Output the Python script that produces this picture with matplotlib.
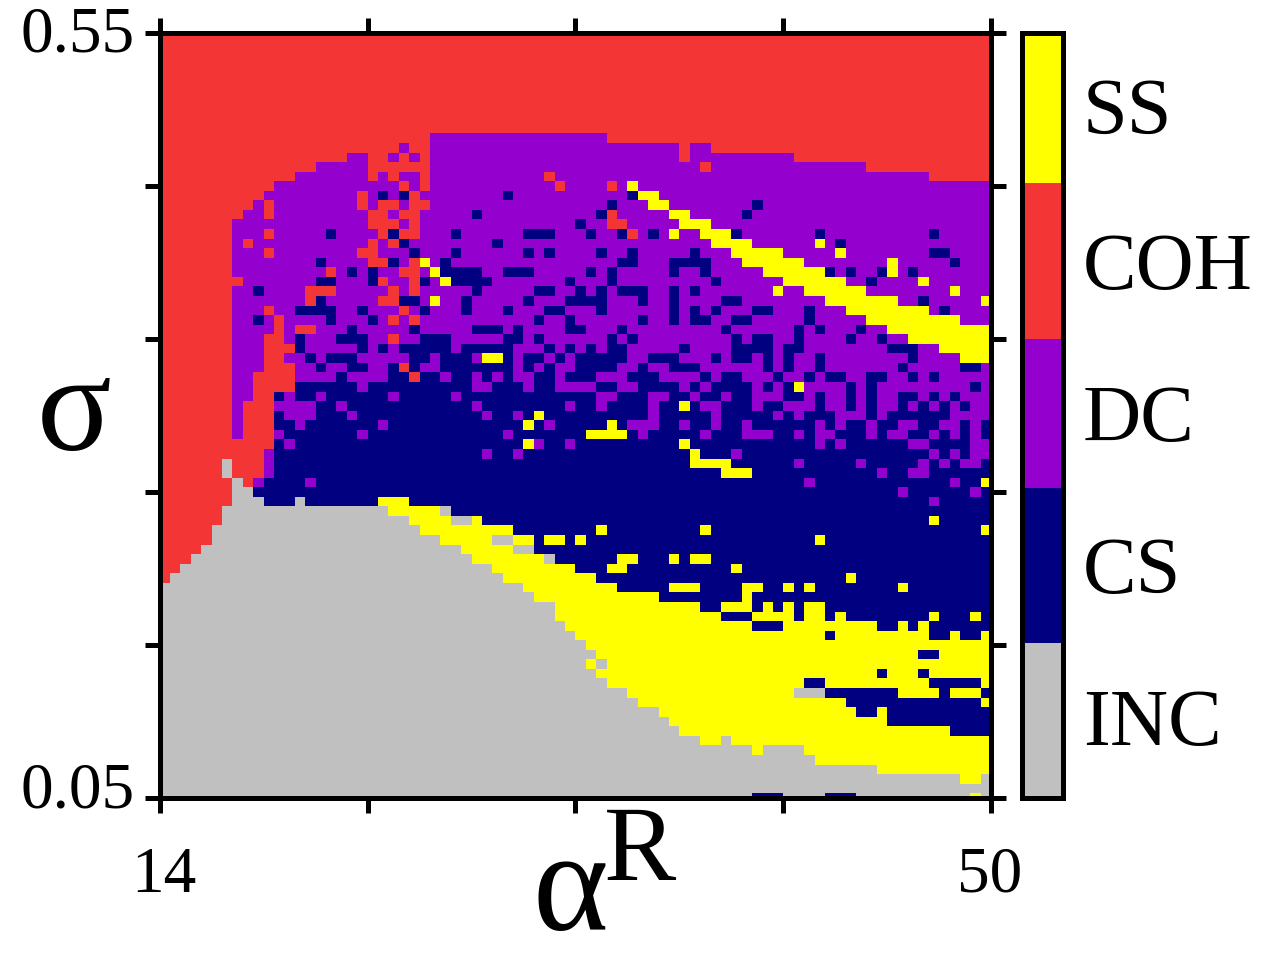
import numpy as np
import matplotlib
matplotlib.use('Agg')
import matplotlib.pyplot as plt
from matplotlib.colors import ListedColormap

plt.rcParams['font.family'] = ['Liberation Serif', 'DejaVu Serif']

# категории снизу вверх
states = ['INC', 'CS', 'DC', 'COH', 'SS']
state_colors = ['#C0C0C0', '#000080', '#9400CD', '#F33535', '#FFFF00']
state_codes = {'G': 0, 'B': 1, 'P': 2, 'R': 3, 'Y': 4}

# границы цветов на шкале справа
bar_edges = [0, 1.013, 2.026, 3.0, 4.02, 5]

# карта: каждая строка сверху вниз, "код + столбец, с которого он начинается"
rows = [
    "R0", "R0", "R0", "R0", "R0", "R0", "R0", "R0", "R0", "R0", "R0",
    "R0 P26 R43",
    "R0 P23 R24 P26 R50 P51 R53",
    "R0 P18 R20 P22 R23 P24 R25 P26 R50 P51 R61",
    "R0 P15 R20 P26 R52 P53 R68",
    "R0 P13 R20 P21 R22 P23 R25 P26 R37 P38 R74",
    "R0 P11 R23 P24 R25 P26 R38 P39 R43 P44 Y45 P46",
    "R0 P10 R19 P20 B21 P22 B23 R24 P25 B33 P34 B45 Y46 P48",
    "R0 P9 R10 P11 R19 P20 R21 P23 R24 P26 B43 P44 Y47 P49 B57 P58",
    "R0 P8 R10 P11 R20 P22 R23 P25 B30 P31 B42 R43 P44 Y49 P51 B56 P57",
    "R0 P7 R20 P23 R24 P25 B40 P41 R43 P45 Y50 P53",
    "R0 P7 R10 P11 B16 P17 R21 B22 R23 P25 B28 P29 B35 P38 B41 P42 B44 R45 P46 B47 P48 Y49 P50 Y52 B55 P56 B63 P64 B74 P75",
    "R0 P7 R8 P9 R20 P21 R22 B23 P24 B32 P33 Y53 P57 Y63 P64 B65 P66",
    "R0 P7 R10 P11 R19 P21 B24 P25 B28 P29 B35 P36 B37 P38 B42 P43 B45 P46 B51 P52 Y55 P60 Y65 P66 B74 P76",
    "R0 P7 B15 P16 R20 B22 P23 R24 Y25 P26 B27 P28 B44 P46 B49 P53 Y56 P62 Y70 P71 B76 P77",
    "R0 P7 R16 P17 B18 P19 B20 P21 R23 P25 Y26 B27 P31 B33 P36 B41 P42 B43 P44 B49 P50 B52 P53 Y58 B64 P65 B66 P67 B69 Y70 P71 B72 P73",
    "R0 P8 B15 P17 B20 R21 P22 R24 B25 P26 Y27 B28 P32 B39 P40 B43 P44 B53 P54 Y60 P66 B68 P69 Y73 P74",
    "R0 P7 B9 P10 R14 P17 R22 P23 R24 P25 B30 P31 B36 P38 B40 P41 B42 P43 B44 P47 B49 P50 B51 P52 Y59 P60 Y62 P68 Y76 P77",
    "R0 P7 R14 B15 P16 R21 B23 P25 Y26 P27 B29 P30 B35 P36 B39 P43 B46 P47 B49 P50 B54 P56 Y64 P71 B73 P74 Y79",
    "R0 P7 R10 P11 B13 P17 B19 P20 R23 P24 B25 P26 B29 P30 B33 P34 B37 P39 B42 P43 B49 P50 B51 P52 B53 P54 B57 P59 B62 P63 Y66 P74 B75 P76",
    "R0 P7 B9 P10 R11 P12 B16 P17 B20 P21 R22 P23 R24 P25 B36 P37 B39 P40 B46 P47 B49 P50 B51 P53 B55 P57 B62 P63 Y68 P77",
    "R0 P7 R11 P12 R13 P15 B18 P19 B24 P25 B30 P33 B34 P35 B39 P41 B44 P45 B54 P55 B61 P62 B63 P64 B67 P68 Y70",
    "R0 P7 R10 P12 B13 P14 B17 P20 R22 P23 B25 P28 B33 P35 B36 P37 B43 P44 B45 P46 B55 P56 B57 P59 B61 P62 B66 P67 B69 P70 Y72",
    "R0 P7 R10 B13 P14 B19 P20 B21 P22 B23 P28 B29 P34 B37 P38 B39 P40 B41 P42 B43 P45 B50 P51 B55 P59 B60 P62 B70 P73 Y75",
    "R0 P7 R10 P12 B14 P15 B16 P19 B24 P26 B27 P30 Y31 B33 P34 B35 P37 B38 P39 B40 P45 B47 P50 B53 P54 B55 P57 B58 P59 B60 P61 B63 P64 B72 P73 Y77",
    "R0 P7 R10 P13 B15 P16 B18 P20 B22 R23 B24 P25 B27 P34 B35 P36 B37 P38 B40 P44 B46 P47 B49 P52 B58 P59 B60 P61 B63 P64 B71 P72 B77 P79",
    "R0 P7 R9 P13 B17 P18 B22 R24 B25 P27 B28 P30 B31 P32 B33 P34 B36 P38 B39 P42 B45 P48 B52 P53 B54 P56 B59 P60 B62 P63 B64 P66 B68 P70 B72 P73 B74 P75",
    "R0 P7 R9 B13 P19 B20 P30 B32 P35 B36 P38 B42 P44 B46 P50 B51 P52 B53 P57 B58 P59 B60 Y61 P62 B66 P67 B68 P69 B78 P79",
    "R0 P7 R9 B11 P12 B13 P15 B16 P22 B23 P28 B29 P42 B44 P47 B49 P51 B52 P54 B55 P57 B60 P62 B63 P64 B66 P67 B68 P69 B71 P73 B74 P75 B76 P77",
    "R0 P7 R8 P11 B15 P17 B18 P30 B31 P39 B40 P42 B43 P47 B48 Y50 B51 P52 B54 P57 B58 P60 B63 P64 B66 P67 B68 P69 B71 P72 B73 P74 B75 P76 B77 P78",
    "R0 P7 R8 B11 P12 B15 P18 B19 P31 B32 P34 B35 Y36 B37 P47 B48 P53 B54 P59 B60 P61 B62 P65 B68 P69 B70 P76",
    "R0 P7 R8 B11 P13 B14 P21 B22 Y35 B36 P37 B38 Y43 B44 P45 B48 P50 B51 P53 B54 P56 B57 P63 B64 P65 B66 P68 B69 P71 B73 P75 B77 P78 B79",
    "R0 P7 R8 P11 B12 P19 B20 P33 B34 Y41 B45 P46 B47 P52 B53 P56 B59 P61 B62 P63 B65 P68 B69 P70 B72 P74 B75 P76 B77 P78 B79",
    "R0 B11 P12 B13 Y35 P36 B37 P39 B40 Y50 B51 P63 B64 P65 B66 P72 B74 P78",
    "R0 P10 B11 P31 B32 P34 B35 Y51 B52 P55 B56 P74 B75 P76 B77 P78",
    "R0 G6 R7 P10 B11 Y51 B55 P61 B62 P67 B68 P73 B74 P75 B76 P77 B79",
    "R0 G6 R7 P10 B11 Y54 B57 P69 B70 P72 B74",
    "R0 G7 R8 P9 B10 P14 B15 P62 B63 P76 B77 Y79",
    "R0 G7 B9 P71 B72 P78 B79",
    "R0 G7 B10 G13 B14 Y21 B24 P74 B75",
    "R0 G6 Y22 G27 B28",
    "R0 G6 Y24 G28 Y30 B31 Y74 B75",
    "R0 G5 Y25 B34 Y42 B43 Y52 B53 Y79",
    "R0 G5 Y27 G32 Y34 B36 Y37 B39 Y40 B41 Y63 B64",
    "R0 G4 Y29 G34 B36",
    "R0 G3 Y30 G37 B38 Y44 B46 Y49 B50 Y51 B53",
    "R0 G2 Y32 B40 Y43 B45 Y55 B56",
    "R0 G1 Y33 B42 Y66 B67",
    "G0 Y35 B44 Y49 B52 Y56 B58 Y60 B61 Y62 B63 Y71 B72",
    "G0 Y36 B48 Y56 B57",
    "G0 Y38 B52 Y54 B57 Y58 B59 Y60 B61 Y62 B64",
    "G0 Y38 B54 Y57 B61 Y62 B64 Y65 B66 Y74 B75 Y78 B79",
    "G0 Y39 B57 Y60 B69 Y71 B72 Y73 B74",
    "G0 Y40 B64 Y65 B74 Y76 B77 Y79",
    "G0 Y41",
    "G0 Y42 B73 Y75",
    "G0 Y41 G42 Y43",
    "G0 Y42 B69 Y70 B73 Y74",
    "G0 Y43 B62 Y64 B74 Y79",
    "G0 Y45 G61 B64 Y71 B75 Y76 B79",
    "G0 Y46 B66 Y79",
    "G0 Y48 B67 Y69 B70",
    "G0 Y49 B70",
    "G0 Y50 B76",
    "G0 Y52 G54 Y55",
    "G0 Y57 G58 Y62",
    "G0 Y63",
    "G0 Y69",
    "G0 Y77 G79",
    "G0",
    "G0 B57 G60 B64 G67 Y78 G79",
]

n_cols = 80
grid = np.zeros((len(rows), n_cols))
for j, row in enumerate(rows):
    tokens = row.split()
    for k, tok in enumerate(tokens):
        start = int(tok[1:])
        stop = int(tokens[k + 1][1:]) if k + 1 < len(tokens) else n_cols
        grid[j, start:stop] = state_codes[tok[0]]

W, H = 1280, 960
lw = 3.6


def fx(px):
    return px / W


def fy(py):
    return 1 - py / H


fig = plt.figure(figsize=(12.8, 9.6), dpi=100)
ax = fig.add_axes([fx(159.7), fy(798.3), (991.2 - 159.7) / W, (798.3 - 33.3) / H])

# строки смещены относительно рамки на -0.53
x_edges = 14 + 0.45 * np.arange(n_cols + 1)
y_edges = 0.55 - 0.00625 * (np.arange(len(rows) + 1) - 0.53)
cmap = ListedColormap(state_colors)
ax.pcolormesh(x_edges, y_edges, grid, cmap=cmap, vmin=-0.5, vmax=4.5, antialiased=False)
ax.set_xlim(14, 50)
ax.set_ylim(0.05, 0.55)
ax.set_xticks([14, 23, 32, 41, 50])
ax.set_yticks([0.05, 0.15, 0.25, 0.35, 0.45, 0.55])
ax.set_xticklabels([])
ax.set_yticklabels([])
ax.tick_params(direction='out', length=10.8, width=lw, top=True, right=True)
for s in ax.spines.values():
    s.set_linewidth(lw)
    s.set_zorder(5)

# шкала состояний справа
cax = fig.add_axes([fx(1021.5), fy(798.3), 41 / W, (798.3 - 33.3) / H])
cax.pcolormesh([0, 1], bar_edges, np.arange(5).reshape(-1, 1), cmap=cmap, vmin=-0.5, vmax=4.5, antialiased=False)
cax.set_xticks([])
cax.set_yticks([])
for s in cax.spines.values():
    s.set_linewidth(lw)

label_y = [726, 574, 421, 269, 114]
for name, py in zip(states, label_y):
    fig.text(fx(1083), fy(py), name, fontsize=58, ha='left', va='center')

# подписи осей
fig.text(fx(135), fy(36), '0.55', fontsize=47, ha='right', va='center')
fig.text(fx(135), fy(792), '0.05', fontsize=47, ha='right', va='center')
fig.text(fx(164), fy(876), '14', fontsize=47, ha='center', va='center')
fig.text(fx(990), fy(876), '50', fontsize=47, ha='center', va='center')
fig.text(fx(74), fy(450), 'σ', fontsize=100, ha='center', va='baseline')
fig.text(fx(570), fy(930), 'α', fontsize=104, ha='center', va='baseline')
fig.text(fx(640), fy(880), 'R', fontsize=78, ha='center', va='baseline')

fig.savefig('out.png', dpi=100)
